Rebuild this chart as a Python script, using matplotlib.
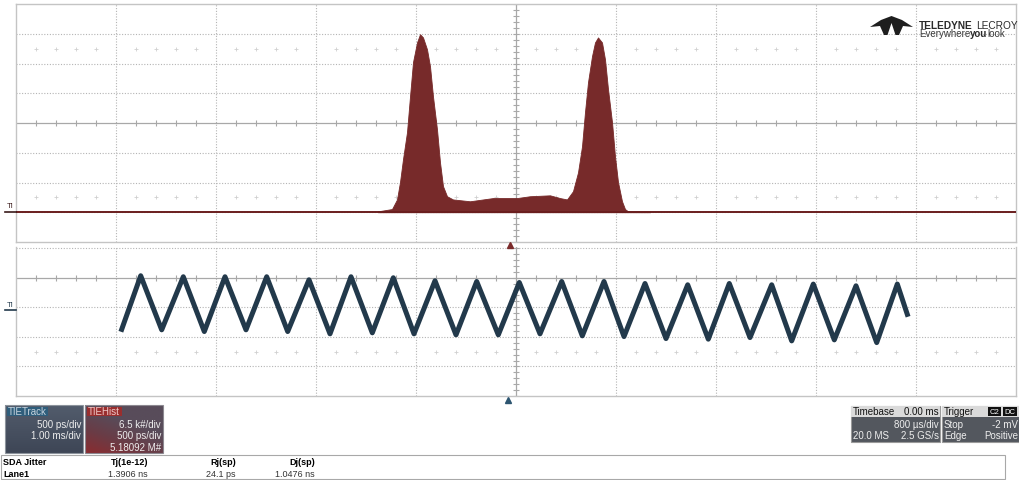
import numpy as np
import matplotlib
matplotlib.use("Agg")
import matplotlib.pyplot as plt
from matplotlib.patches import Rectangle, Polygon

plt.rcParams['font.family'] = ['Liberation Sans', 'DejaVu Sans']

# TIE histogram (x in ps, counts in k#)
hist_ps = [-690, -620, -595, -580, -565, -545, -530, -515, -495, -480, -465, -445,
           -430, -415, -395, -380, -365, -345, -315, -230, -115, -30, 5, 70, 170,
           220, 255, 285, 310, 330, 345, 360, 380, 395, 410, 430, 445, 460, 480,
           495, 510, 530, 545, 560, 670]
hist_k = [0.2, 0.7, 2.8, 6.6, 11.6, 17.5, 25.3, 32.8, 37.1, 38.9, 38.2, 35.6,
          31.9, 25.3, 18.1, 10.9, 5.7, 3.5, 2.8, 2.4, 3.1, 3.1, 3.1, 3.5, 3.7,
          3.1, 2.8, 4.6, 8.7, 14.4, 21.9, 28.4, 34.1, 37.1, 38.2, 37.1, 33.4,
          26.9, 19.7, 12.2, 6.6, 2.4, 0.7, 0.2, 0.1]

# TIE track (time in ms, TIE in ps) - vertices of the triangle wave
tie_ms = [-3.943, -3.753, -3.543, -3.327, -3.117, -2.91, -2.70, -2.493, -2.283,
          -2.07, -1.86, -1.65, -1.437, -1.227, -1.02, -0.81, -0.60, -0.393,
          -0.177, 0.033, 0.24, 0.457, 0.663, 0.88, 1.08, 1.29, 1.50, 1.717,
          1.923, 2.133, 2.34, 2.557, 2.757, 2.973, 3.183, 3.40, 3.607, 3.813, 3.913]
tie_ps = [-373, 534, -381, 517, -410, 517, -381, 517, -410, 466, -449, 517, -432,
          500, -449, 449, -466, 437, -466, 420, -449, 437, -483, 437, -495, 403,
          -529, 381, -539, 403, -512, 381, -568, 393, -551, 364, -597, 393, -119]

hist_color = '#772a2a'
track_color = '#22394b'
grid_c = '#b4b4b4'
W, H = 1019, 481

fig = plt.figure(figsize=(W / 100, H / 100), dpi=100)
fig.patch.set_facecolor('white')


def px_axes(x0, y0, x1, y1):
    return fig.add_axes([x0 / W, 1 - y1 / H, (x1 - x0) / W, (y1 - y0) / H])


def scope_grid(ax, xdiv, ydiv, xc, yc, xs, ys, dot_rows):
    # xdiv / ydiv: positions of the grid lines, xc/yc centre lines
    for x in xdiv:
        if x == xc:
            ax.axvline(x, color='#a8a8a8', lw=0.9, zorder=1)
        else:
            ax.axvline(x, color=grid_c, lw=0.8, ls=(0, (1, 1.5)), zorder=1)
    for y in ydiv:
        if y == yc:
            ax.axhline(y, color='#a8a8a8', lw=0.9, zorder=1)
        else:
            ax.axhline(y, color=grid_c, lw=0.8, ls=(0, (1, 1.5)), zorder=1)
    # minor ticks on the centre lines
    ax.plot(xs, [yc] * len(xs), ls='none', marker='|', ms=5, mew=0.8,
            color='#a8a8a8', zorder=1)
    ax.plot([xc] * len(ys), ys, ls='none', marker='_', ms=5, mew=0.8,
            color='#a8a8a8', zorder=1)
    for r in dot_rows:
        ax.plot(xs, [r] * len(xs), ls='none', marker='+', ms=3, mew=0.6,
                color='#d0d0d0', zorder=1)


# ---- top panel: histogram ----
ax1 = px_axes(16, 5, 1016, 243)
ax1.set_xlim(-2500, 2500)
ax1.set_ylim(-6.5, 45.5)
xs1 = [x for x in np.arange(-2500, 2501, 100) if x % 500 != 0]
ys1 = np.arange(-6.5, 45.6, 1.3)
scope_grid(ax1, np.arange(-2000, 2001, 500), np.arange(0, 40, 6.5), 0, 19.5,
           xs1, ys1, [3.25, 35.75])
ax1.fill_between(hist_ps, 0, hist_k, color=hist_color, lw=0.6,
                 edgecolor=hist_color, zorder=3)
ax1.axhline(0, color='#6a1e1e', lw=1.4, zorder=4)
ax1.set_xticks([])
ax1.set_yticks([])
for s in ax1.spines.values():
    s.set_color('#c4c4c4')
    s.set_linewidth(1)

# ---- bottom panel: TIE track ----
ax2 = px_axes(16, 248, 1016, 397)
ax2.set_xlim(-5, 5)
ax2.set_ylim(-1500, 1020)
xs2 = [x for x in np.arange(-5, 5.01, 0.2) if abs(x - round(x)) > 1e-6]
ys2 = np.arange(-1500, 1021, 100)
scope_grid(ax2, np.arange(-4, 5, 1), [1000, 500, 0, -500, -1000], 0, 500,
           xs2, ys2, [-750])
ax2.plot(tie_ms, tie_ps, color=track_color, lw=3.6, zorder=3)
ax2.set_xticks([])
ax2.set_yticks([])
ax2.spines['top'].set_visible(False)
for k in ['left', 'right', 'bottom']:
    ax2.spines[k].set_color('#c4c4c4')
    ax2.spines[k].set_linewidth(1)

# ---- overlay in pixel coordinates for labels and info boxes ----
ov = fig.add_axes([0, 0, 1, 1], zorder=5)
ov.set_xlim(0, W)
ov.set_ylim(H, 0)
ov.axis('off')

# trace labels
ov.text(6.5, 210, 'TI', fontsize=5.5, color='#3a1a1a', va='bottom')
ov.plot([5, 16], [213, 213], color='#3a1a1a', lw=1.2)
ov.text(6.5, 309, 'TI', fontsize=5.5, color='#22394b', va='bottom')
ov.plot([5, 16], [311, 311], color='#22394b', lw=1.2)

# trigger markers
ov.plot(510, 246, marker='^', ms=5, color='#7a2a2a')
ov.plot(508, 401, marker='^', ms=5, color='#2d5570')

# logo
logo = [(891.5, 17), (902, 21), (913, 28), (903, 27), (899, 36), (895.5, 36),
        (891.5, 24), (887.5, 36), (884, 36), (880, 27), (870, 28), (881, 21)]
ov.add_patch(Polygon(logo, closed=True, color='#1e1e1e', lw=0))
t1 = ov.text(919, 29, 'TELEDYNE', fontsize=7.3, fontweight='bold',
             color='#2a2a2a', va='baseline')
ov.annotate('LECROY', xy=(1, 0), xycoords=t1, xytext=(2.5, 0),
            textcoords='offset points', fontsize=7.3, color='#2a2a2a',
            va='bottom')
t2 = ov.text(919, 37, 'Everywhere', fontsize=7, color='#3a3a3a',
             va='baseline')
t3 = ov.annotate('you', xy=(1, 0), xycoords=t2, fontsize=7,
                 fontweight='bold', color='#2a2a2a', va='bottom')
ov.annotate('look', xy=(1, 0), xycoords=t3, fontsize=7, color='#3a3a3a',
            va='bottom')


def box(x0, y0, x1, y1, fc, ec='none', lw=0.8, z=6):
    ov.add_patch(Rectangle((x0, y0), x1 - x0, y1 - y0, facecolor=fc,
                           edgecolor=ec, lw=lw, zorder=z))


fs = 7
# TIETrack box
grad = np.linspace(0, 1, 50).reshape(-1, 1)
ov.imshow(grad, extent=(5, 83, 454, 406), cmap=matplotlib.colors.LinearSegmentedColormap.from_list(
    'tr', ['#525c6c', '#3e4656']), aspect='auto', zorder=6)
box(5, 406, 83, 454, 'none', ec='#8c939c')
box(7, 407.5, 48, 417, '#2f5e7c', z=7)
ov.text(8, 412.5, 'TIETrack', fontsize=fs, color='#c8d4de', va='center', zorder=8)
ov.text(81, 425, '500 ps/div', fontsize=fs, color='#eeeeee', ha='right', va='center', zorder=8)
ov.text(81, 436, '1.00 ms/div', fontsize=fs, color='#eeeeee', ha='right', va='center', zorder=8)

# TIEHist box
gx, gy = np.meshgrid(np.linspace(0, 1, 60), np.linspace(0, 1, 40))
ov.imshow(np.clip(gy - 0.6 * gx, 0, 1), extent=(85, 163, 406, 454),
          cmap=matplotlib.colors.LinearSegmentedColormap.from_list(
              'th', ['#584c5a', '#6a3c46', '#8a2c30']),
          aspect='auto', origin='lower', zorder=6)
ov.set_xlim(0, W)
ov.set_ylim(H, 0)
box(85, 406, 163, 454, 'none', ec='#8c8890')
box(87, 407.5, 122, 417, '#9a2e2e', z=7)
ov.text(88, 412.5, 'TIEHist', fontsize=fs, color='#f0c8c8', va='center', zorder=8)
ov.text(161, 425, '6.5 k#/div', fontsize=fs, color='#eeeeee', ha='right', va='center', zorder=8)
ov.text(161, 436, '500 ps/div', fontsize=fs, color='#eeeeee', ha='right', va='center', zorder=8)
ov.text(161, 448.5, '5.18092 M#', fontsize=fs, color='#eeeeee', ha='right', va='center', zorder=8)

# Timebase box
box(851, 407, 940, 443, '#53575e', ec='#9a9a9a')
box(851, 407, 940, 418, '#dadada', z=7)
ov.text(853, 412.5, 'Timebase', fontsize=fs, color='#111111', va='center', zorder=8)
ov.text(939, 412.5, '0.00 ms', fontsize=fs, color='#111111', ha='right', va='center', zorder=8)
ov.text(939, 425.5, '800 µs/div', fontsize=fs, color='#eeeeee', ha='right', va='center', zorder=8)
ov.text(853, 436, '20.0 MS', fontsize=fs, color='#eeeeee', va='center', zorder=8)
ov.text(939, 436, '2.5 GS/s', fontsize=fs, color='#eeeeee', ha='right', va='center', zorder=8)

# Trigger box
box(942, 407, 1019, 443, '#53575e', ec='#9a9a9a')
box(942, 407, 1019, 418, '#dadada', z=7)
ov.text(944, 412.5, 'Trigger', fontsize=fs, color='#111111', va='center', zorder=8)
box(988, 408, 1001, 417, '#111111', z=8)
box(1003, 408, 1017, 417, '#111111', z=8)
ov.text(994.5, 412.5, 'C2', fontsize=5.5, color='white', ha='center', va='center', zorder=9)
ov.text(1010, 412.5, 'DC', fontsize=5.5, color='white', ha='center', va='center', zorder=9)
ov.text(944, 425.5, 'Stop', fontsize=fs, color='#eeeeee', va='center', zorder=8)
ov.text(1018, 425.5, '-2 mV', fontsize=fs, color='#eeeeee', ha='right', va='center', zorder=8)
ov.text(944, 436, 'Edge', fontsize=fs, color='#eeeeee', va='center', zorder=8)
ov.text(1018, 436, 'Positive', fontsize=fs, color='#eeeeee', ha='right', va='center', zorder=8)

# jitter table
box(1, 456, 1005, 480, 'white', ec='#a8a8a8')
ov.text(3, 463, 'SDA Jitter', fontsize=6.5, fontweight='bold', va='center', zorder=8)
ov.text(3, 475, 'Lane1', fontsize=6.5, fontweight='bold', va='center', zorder=8)
cols = [('Tj(1e-12)', '1.3906 ns', 148), ('Rj(sp)', '24.1 ps', 236),
        ('Dj(sp)', '1.0476 ns', 315)]
for head, val, xr in cols:
    ov.text(xr, 463, head, fontsize=6.5, fontweight='bold', ha='right', va='center', zorder=8)
    ov.text(xr, 475, val, fontsize=6.5, color='#333333', ha='right', va='center', zorder=8)

fig.savefig('out.png', dpi=100)
